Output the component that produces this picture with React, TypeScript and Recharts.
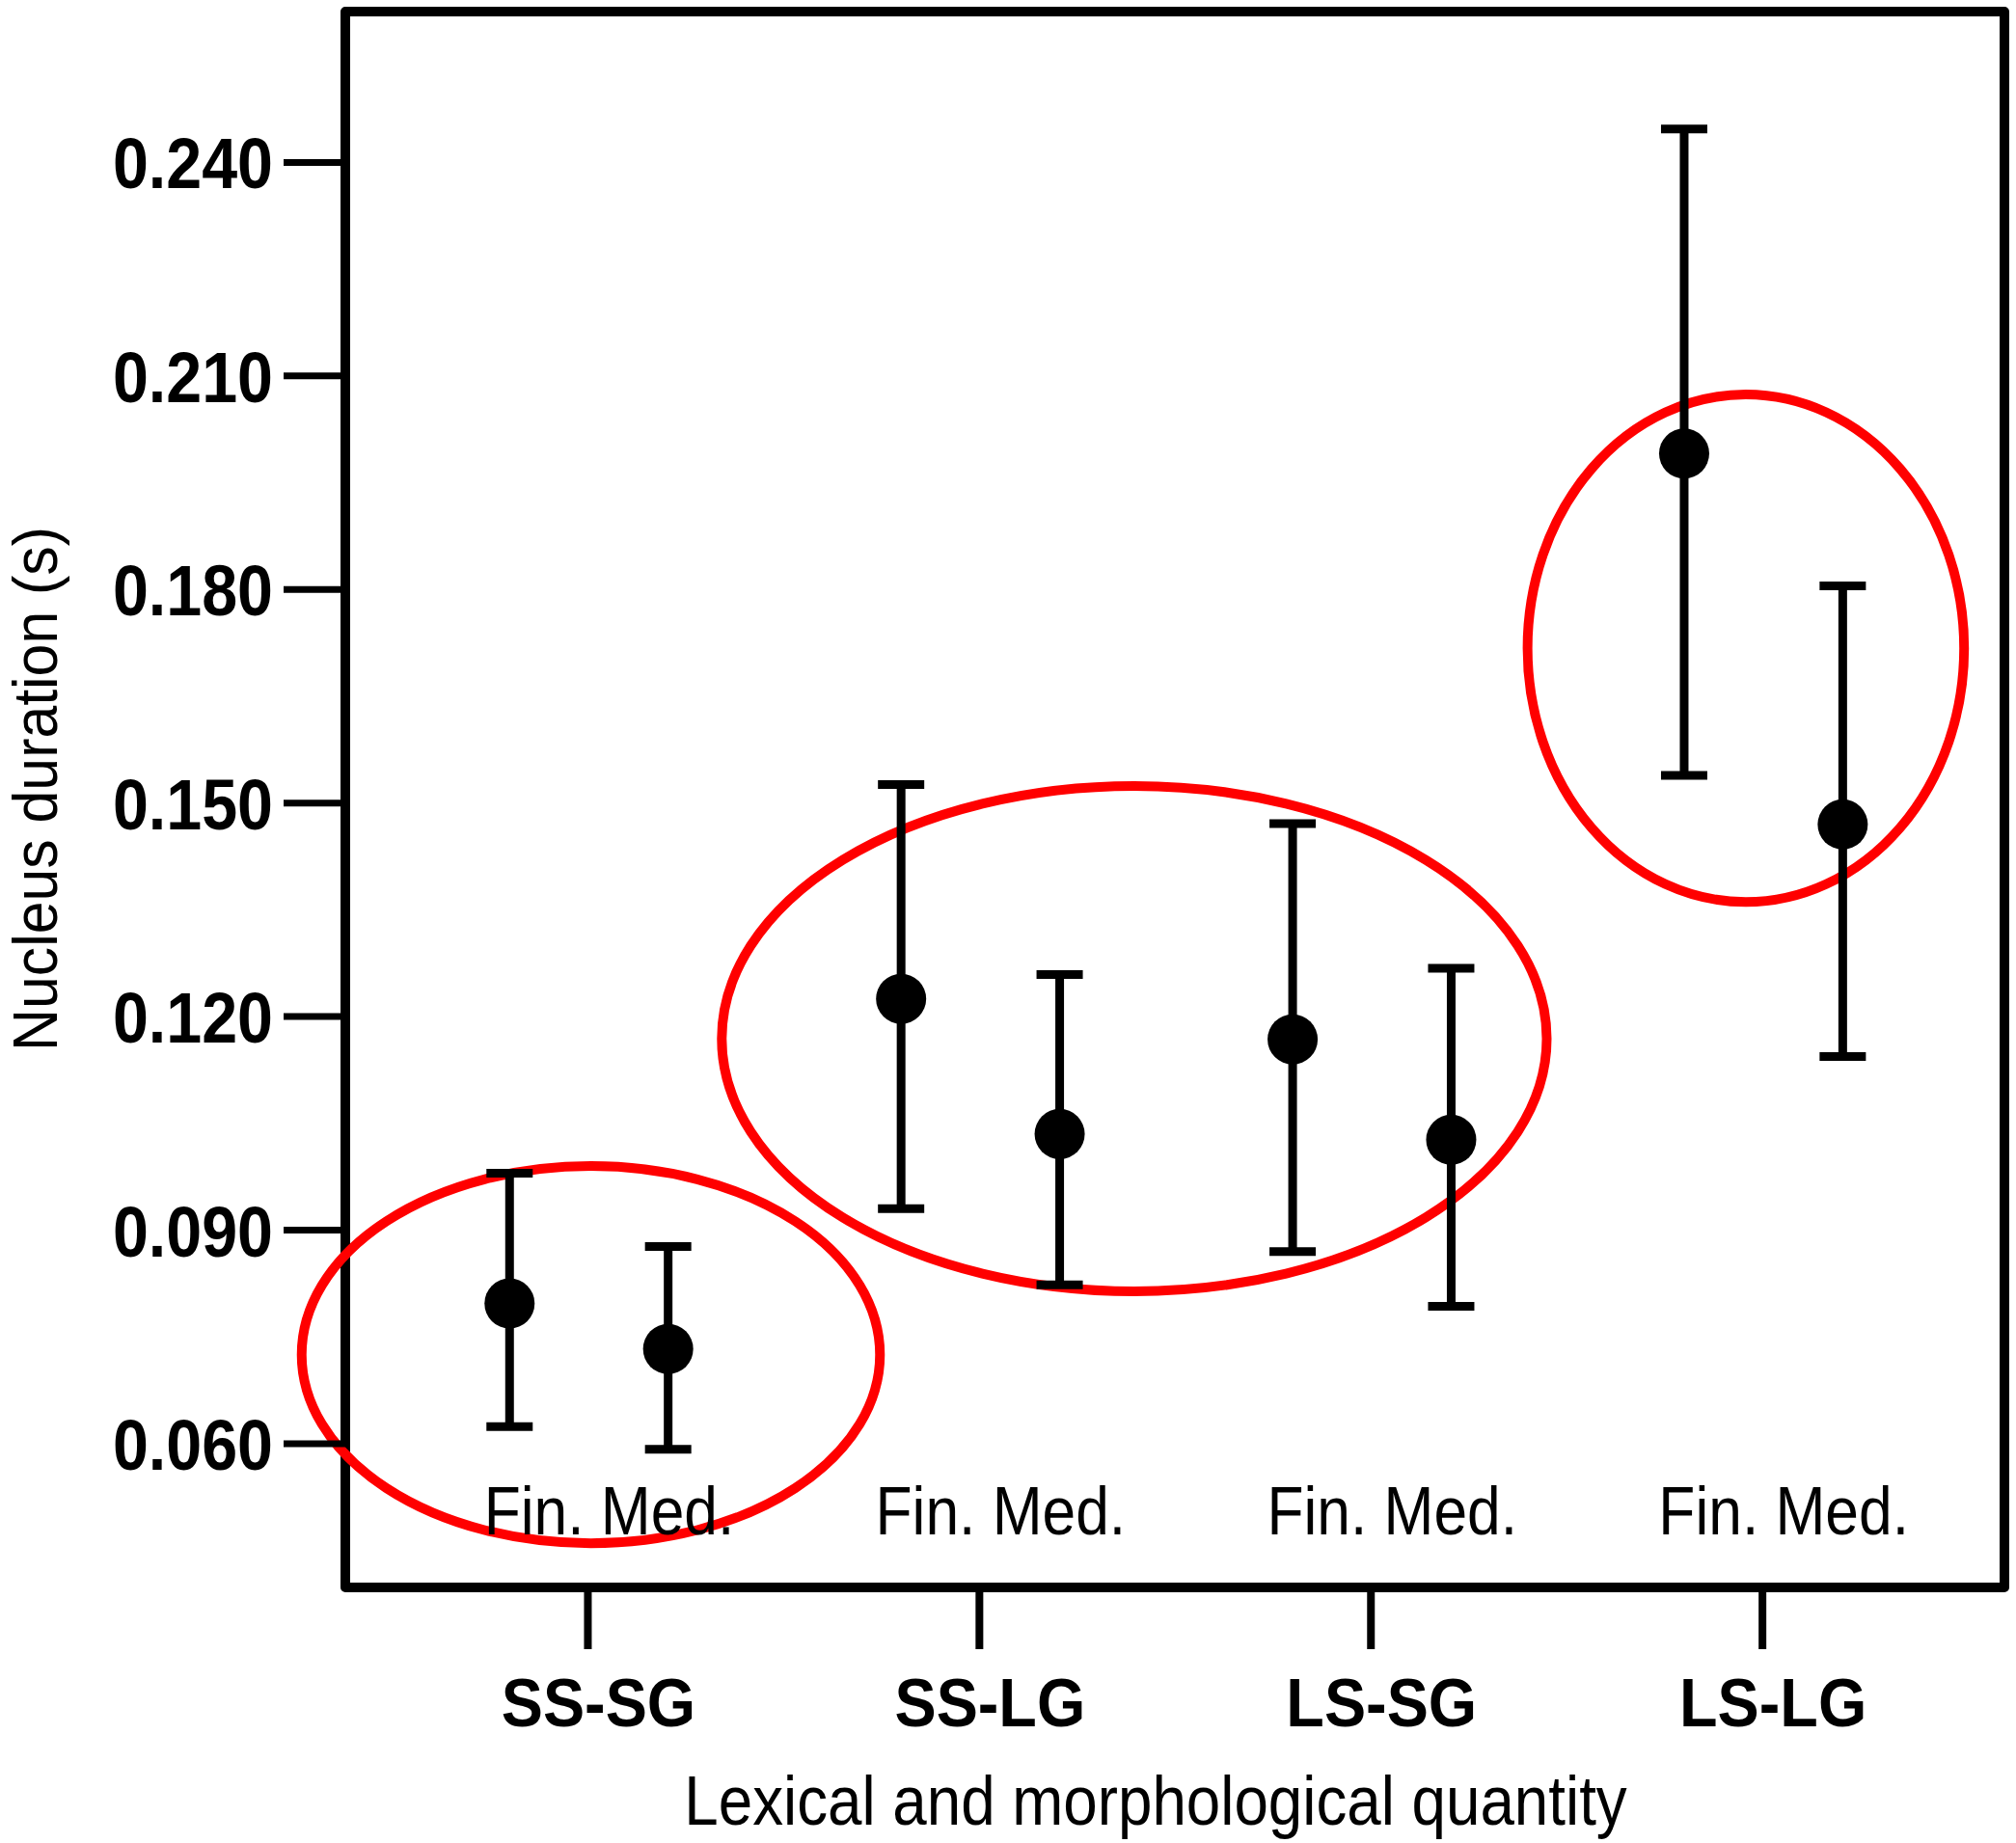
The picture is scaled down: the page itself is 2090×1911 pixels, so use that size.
import { ScatterChart, Scatter, XAxis, YAxis, ErrorBar, ReferenceArea } from 'recharts';

// categories along the x axis
const categories = ['SS-SG', 'SS-LG', 'LS-SG', 'LS-LG'];
const subLabel = 'Fin. Med.';

// nucleus duration (s): means and interval ends
const finMean = [0.0797, 0.1225, 0.1168, 0.1991];
const finUpper = [0.0980, 0.1526, 0.1471, 0.2447];
const finLower = [0.0624, 0.0930, 0.0870, 0.1539];

const medMean = [0.0733, 0.1035, 0.1027, 0.1470];
const medUpper = [0.0877, 0.1259, 0.1268, 0.1805];
const medLower = [0.0592, 0.0823, 0.0793, 0.1144];

const yTicks = [0.06, 0.09, 0.12, 0.15, 0.18, 0.21, 0.24];
const xTicks = [0, 1, 2, 3];

// red annotation ellipses, bounding boxes in data units
const ellipseX1 = [-0.731, 0.342, 2.40];
const ellipseX2 = [0.746, 2.449, 3.515];
const ellipseY1 = [0.0460, 0.0814, 0.1361];
const ellipseY2 = [0.0990, 0.1524, 0.2074];

const X_DOMAIN: [number, number] = [-0.6195, 3.618];
const Y_DOMAIN: [number, number] = [0.0398, 0.2612];
const FIN_OFFSET = -0.2;
const MED_OFFSET = 0.205;

const FONT = '"Liberation Sans", Arial, Helvetica, sans-serif';

const points = categories.flatMap((_, i) => [
    { x: i + FIN_OFFSET, y: finMean[i], err: [finMean[i] - finLower[i], finUpper[i] - finMean[i]] },
    { x: i + MED_OFFSET, y: medMean[i], err: [medMean[i] - medLower[i], medUpper[i] - medMean[i]] },
]);

const YTick = (props: any) => {
    const { x, y, payload } = props;
    return (
        <text
            transform={`translate(${x} ${y}) scale(0.885 1)`}
            x={0}
            y={27}
            textAnchor="end"
            fontFamily={FONT}
            fontWeight="bold"
            fontSize={75}
            fill="#000"
        >
            {Number(payload.value).toFixed(3)}
        </text>
    );
};

const XTick = (props: any) => {
    const { x, y, payload } = props;
    return (
        <g>
            <text
                transform={`translate(${x + 11} ${y + 80}) scale(0.925 1)`}
                textAnchor="middle"
                fontFamily={FONT}
                fontWeight="bold"
                fontSize={70}
                fill="#000"
            >
                {categories[payload.value]}
            </text>
            <text
                transform={`translate(${x + 22} ${y - 119}) scale(0.89 1)`}
                textAnchor="middle"
                fontFamily={FONT}
                fontSize={70}
                fill="#000"
            >
                {subLabel}
            </text>
        </g>
    );
};

const Ellipse = (props: any) => {
    const { x, y, width, height } = props;
    return (
        <ellipse
            cx={x + width / 2}
            cy={y + height / 2}
            rx={Math.abs(width) / 2}
            ry={Math.abs(height) / 2}
            fill="none"
            stroke="#ff0000"
            strokeWidth={10}
        />
    );
};

const Frame = (props: any) => {
    const { x, y, width, height } = props;
    return <rect x={x} y={y} width={width} height={height} fill="none" stroke="#000" strokeWidth={10} strokeLinejoin="round" />;
};

const App = () => {
    return (
        <div style={{ position: 'absolute', left: 0, top: 0, width: 2090, height: 1911, background: '#fff' }}>
            <ScatterChart width={2090} height={1911} margin={{ top: 12, right: 12, bottom: 0, left: 0 }}>
                <XAxis
                    type="number"
                    dataKey="x"
                    domain={X_DOMAIN}
                    ticks={xTicks}
                    allowDataOverflow
                    axisLine={false}
                    height={265}
                    tickSize={64}
                    tickMargin={0}
                    tickLine={{ stroke: '#000', strokeWidth: 8 }}
                    tick={XTick}
                    label={{
                        content: (p: any) => {
                            const vb = p.viewBox;
                            return (
                                <text
                                    transform={`translate(${vb.x + vb.width / 2 - 20} ${vb.y + 246}) scale(0.885 1)`}
                                    textAnchor="middle"
                                    fontFamily={FONT}
                                    fontSize={72}
                                    fill="#000"
                                >
                                    Lexical and morphological quantity
                                </text>
                            );
                        },
                    }}
                />
                <YAxis
                    type="number"
                    dataKey="y"
                    domain={Y_DOMAIN}
                    ticks={yTicks}
                    allowDataOverflow
                    axisLine={false}
                    width={358}
                    tickSize={64}
                    tickMargin={11}
                    tickLine={{ stroke: '#000', strokeWidth: 7 }}
                    tick={YTick}
                    label={{
                        content: (p: any) => {
                            const vb = p.viewBox;
                            return (
                                <text
                                    transform={`translate(${vb.x + 59} ${vb.y + vb.height / 2 - 11}) rotate(-90) scale(0.95 1)`}
                                    textAnchor="middle"
                                    fontFamily={FONT}
                                    fontSize={64}
                                    fill="#000"
                                >
                                    Nucleus duration (s)
                                </text>
                            );
                        },
                    }}
                />

                <Scatter
                    data={points}
                    isAnimationActive={false}
                    shape={(p: any) => <circle cx={p.cx} cy={p.cy} r={26} fill="#000" />}
                >
                    <ErrorBar dataKey="err" direction="y" width={24} stroke="#000" strokeWidth={9} isAnimationActive={false} />
                </Scatter>

                <ReferenceArea
                    x1={X_DOMAIN[0]}
                    x2={X_DOMAIN[1]}
                    y1={Y_DOMAIN[0]}
                    y2={Y_DOMAIN[1]}
                    ifOverflow="visible"
                    shape={Frame}
                />

                {ellipseX1.map((x1, i) => (
                    <ReferenceArea
                        key={i}
                        x1={x1}
                        x2={ellipseX2[i]}
                        y1={ellipseY1[i]}
                        y2={ellipseY2[i]}
                        ifOverflow="visible"
                        shape={Ellipse}
                    />
                ))}
            </ScatterChart>
        </div>
    );
};

export default App;
